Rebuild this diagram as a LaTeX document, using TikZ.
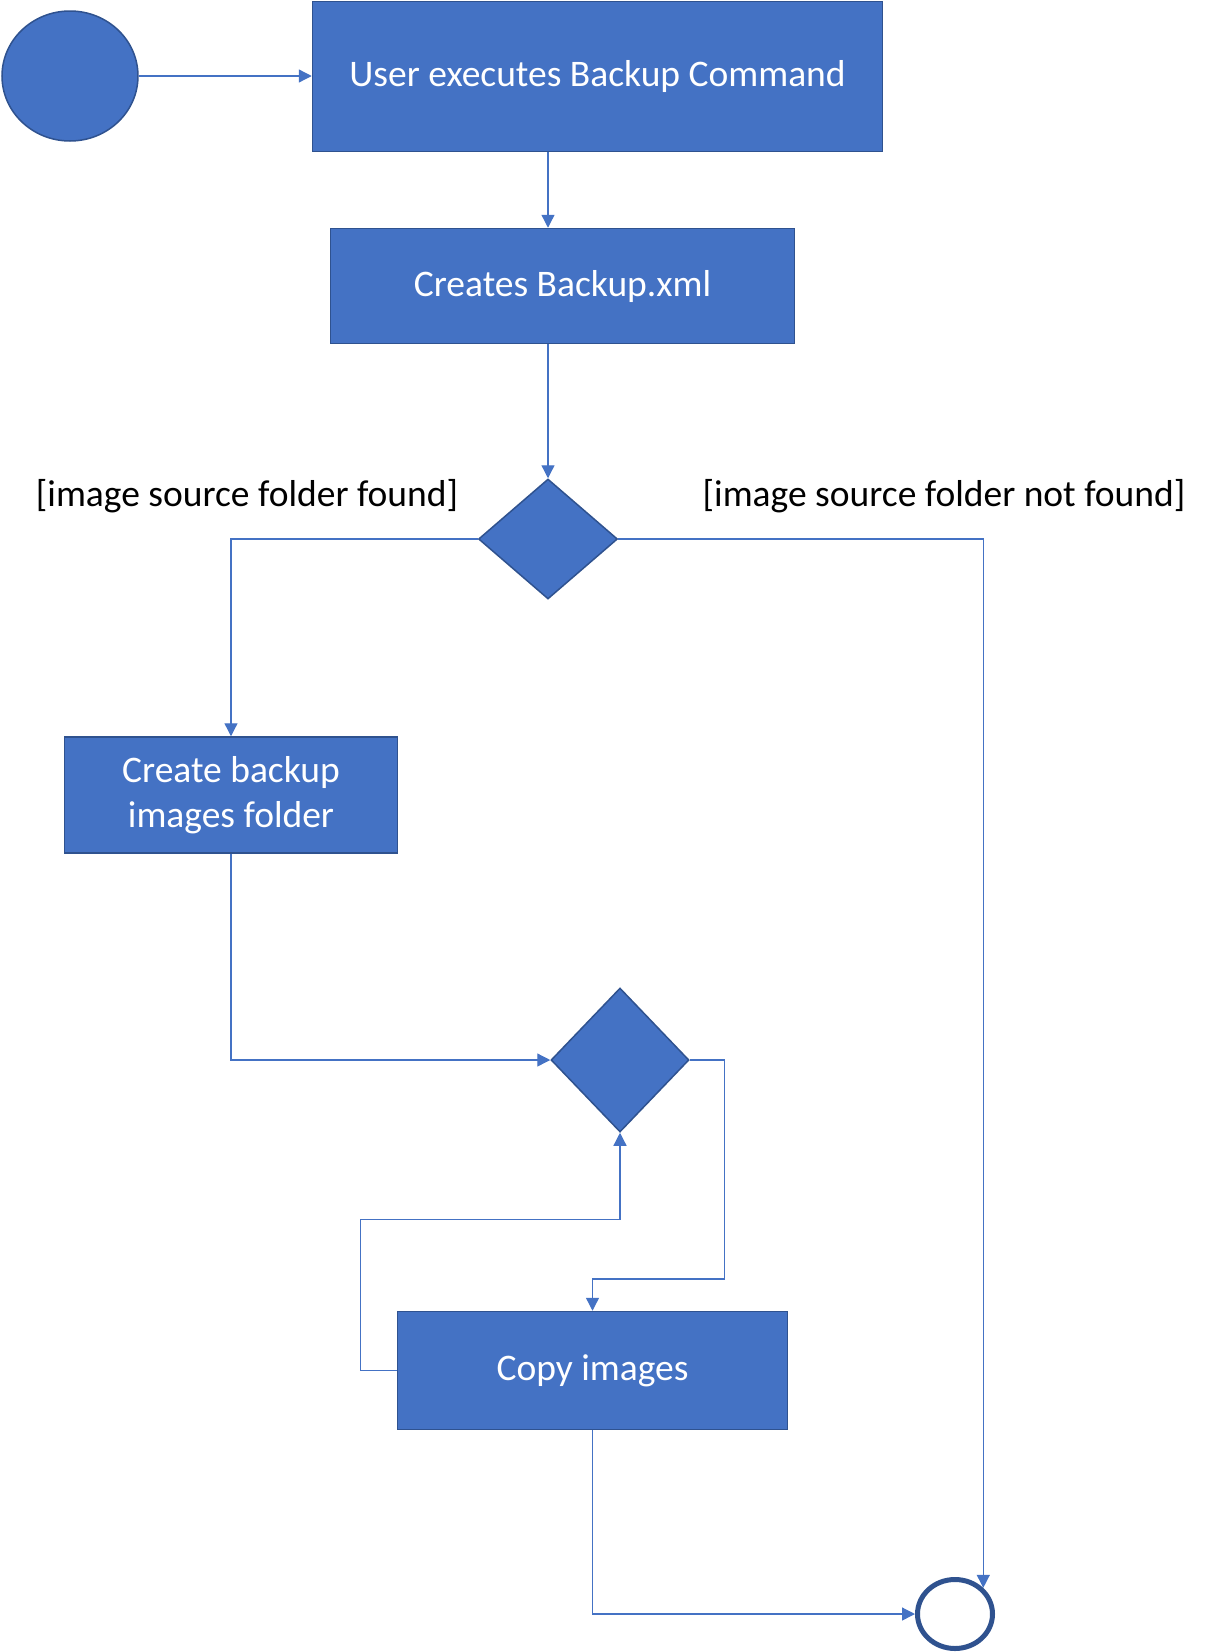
\documentclass[tikz,border=0pt]{standalone}
\usepackage{fontspec}
\setmainfont{Carlito}
\usetikzlibrary{arrows.meta,shapes.geometric}
\definecolor{officeblue}{HTML}{4472C4}
\definecolor{darkblue}{HTML}{2F528F}
\tikzset{
    box/.style={draw=darkblue,line width=1.5pt,fill=officeblue,text=white,align=center,inner sep=0pt},
    fork/.style={diamond,draw=darkblue,line width=1.5pt,fill=officeblue,inner sep=0pt},
    flow/.style={draw=officeblue,line width=1.3pt,-{Triangle[length=13pt,width=13pt]}},
    guard/.style={text=black}
}
\begin{document}
\begin{tikzpicture}[x=1pt,y=-1pt,font=\fontsize{37.5}{45}\selectfont]
        \useasboundingbox (0,0) rectangle (1211,1652);
        \node[ellipse,draw=darkblue,line width=1.5pt,fill=officeblue,minimum width=136pt,minimum height=130pt] (start) at (70,76) {};
        \node[box,minimum width=570pt,minimum height=150pt] (cmd) at (597.5,76.5) {\raisebox{-3pt}{User executes Backup Command}};
        \node[box,minimum width=464pt,minimum height=115pt] (xml) at (562.5,286) {\raisebox{-3pt}{Creates Backup.xml}};
        \node[fork,minimum width=139pt,minimum height=120pt] (chk) at (548,539) {};
        \node[guard] (found) at (247,496) {[image source folder found]};
        \node[guard] (notfound) at (944,496) {[image source folder not found]};
        \node[box,minimum width=333pt,minimum height=116pt] (mkdir) at (231,795) {Create backup\\images folder};
        \node[fork,minimum width=138pt,minimum height=144pt] (loop) at (620,1060) {};
        \node[box,minimum width=390pt,minimum height=118pt] (copy) at (592.5,1370.5) {\raisebox{-3pt}{Copy images}};
        \node[ellipse,draw=darkblue,line width=5pt,fill=white,minimum width=75pt,minimum height=69pt] (fin) at (955,1614) {};
        \draw[flow] (start.east) -- (start.east -| cmd.west);
        \draw[flow] (chk |- cmd.south) -- (chk |- xml.north);
        \draw[flow] (chk |- xml.south) -- (chk.north);
        \draw[flow] (chk.west) -| (mkdir.north);
        \draw[flow] (chk.east) -| (fin.north east);
        \draw[flow] (mkdir.south) |- (loop.west);
        \draw[flow] (loop.east) -| ++(35,219) -| (copy.north);
        \draw[flow] (copy.west) -| ++(-36,-151) -| (loop.south);
        \draw[flow] (copy.south) |- (fin.west);
\end{tikzpicture}
\end{document}
